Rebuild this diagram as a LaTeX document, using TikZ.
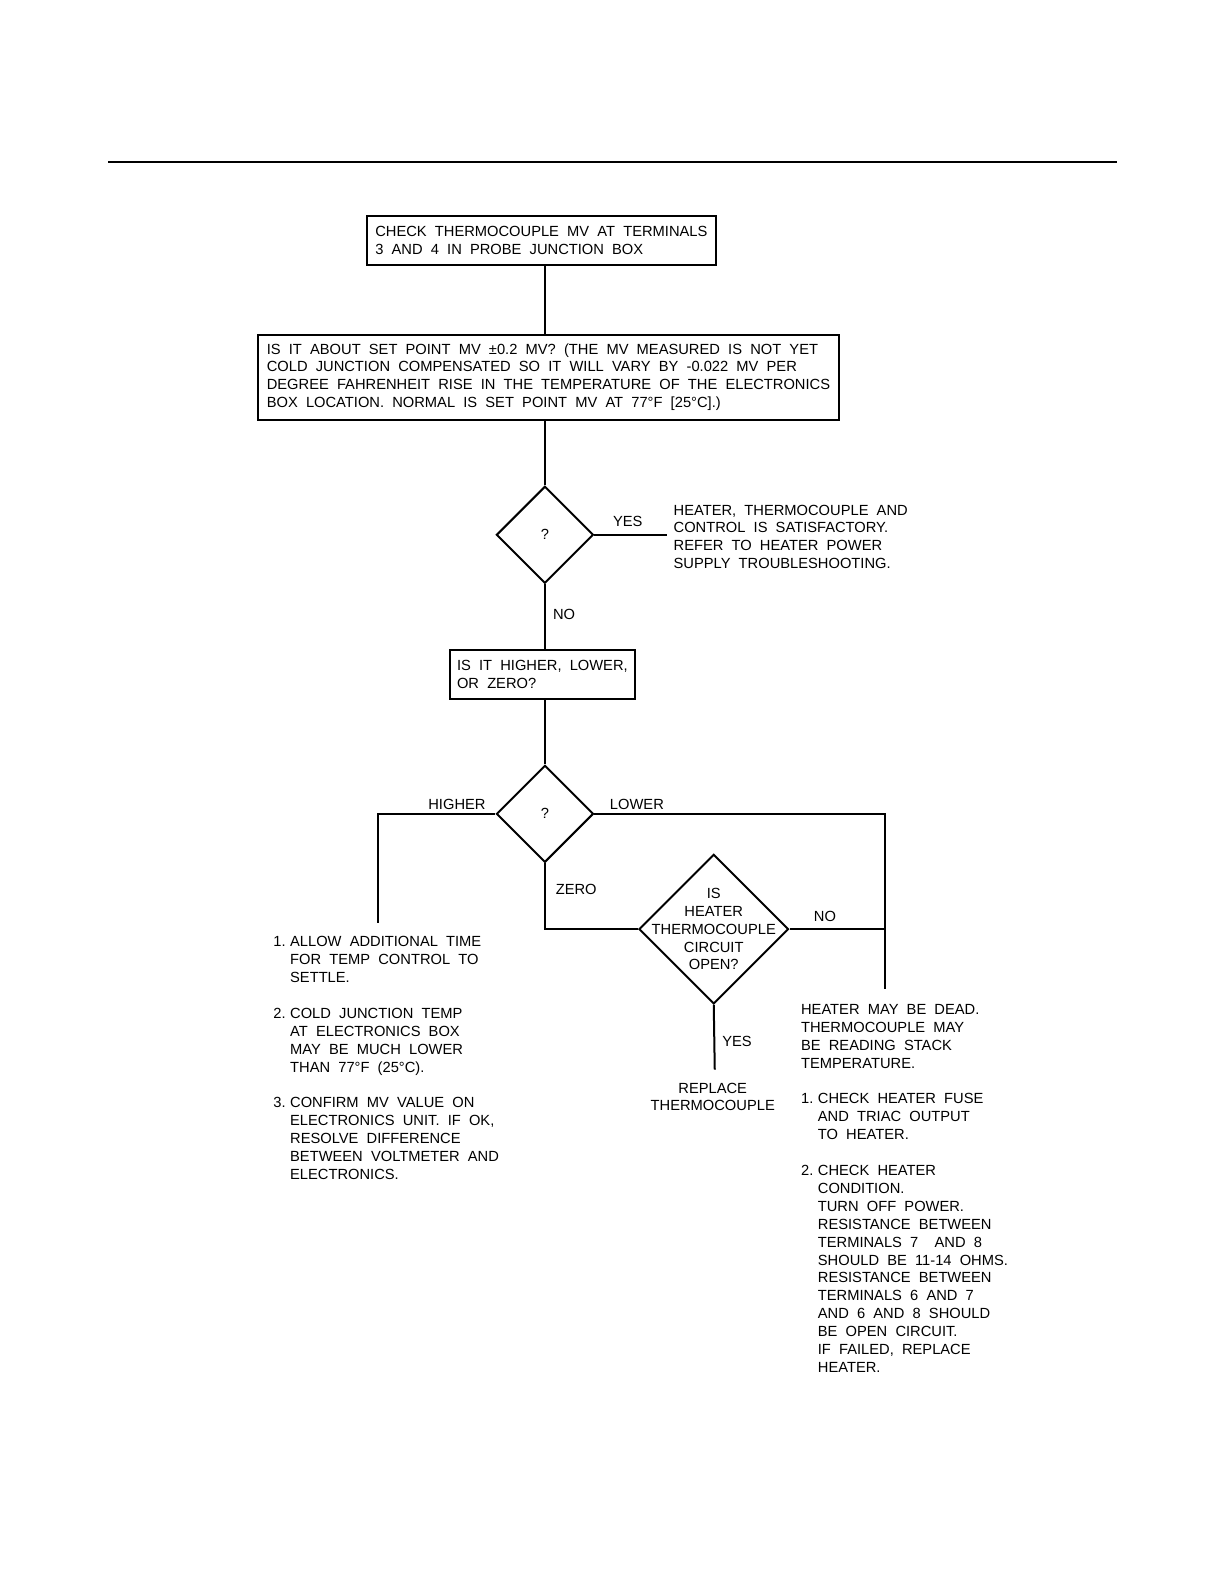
\documentclass[tikz,border=0pt]{standalone}
\usepackage{fontspec}
\setmainfont{Liberation Sans}[WordSpace=2]
\usetikzlibrary{shapes.geometric}
\newcommand{\numitem}[1]{\makebox[8.4pt][l]{#1}}
\newcommand{\indnt}{\hspace*{8.4pt}}

\begin{document}
\begin{tikzpicture}[x=0.5055pt, y=-0.5055pt,
  every node/.style={font=\fontsize{7.35}{8.95}\selectfont},
  stepbox/.style={shape=rectangle, draw, line width=1pt, align=left, inner xsep=3.5pt},
  decision/.style={shape=diamond, draw, line width=1pt, inner sep=0pt, minimum width=48.5pt, minimum height=48.5pt},
  note/.style={align=left, anchor=north west, inner sep=0pt},
  tag/.style={inner sep=0pt},
  flow/.style={line width=1pt}]

\useasboundingbox (0,0) rectangle (1211.7,1567.8);
\draw[line width=0.75pt] (107,160) -- (1105,160);

\node[stepbox, minimum width=174.4pt, minimum height=24.3pt] (n1) at (535.5,238) {CHECK THERMOCOUPLE MV AT TERMINALS\\3 AND 4 IN PROBE JUNCTION BOX};
\node[stepbox, minimum width=290.7pt, minimum height=42.5pt] (n2) at (542.5,373) {IS IT ABOUT SET POINT MV ±0.2 MV? (THE MV MEASURED IS NOT YET\\COLD JUNCTION COMPENSATED SO IT WILL VARY BY -0.022 MV PER\\DEGREE FAHRENHEIT RISE IN THE TEMPERATURE OF THE ELECTRONICS\\BOX LOCATION. NORMAL IS SET POINT MV AT 77°F [25°C].)};
\node[decision] (d1) at (539,529) {?};
\node[align=left, anchor=west, inner sep=3pt] (t1) at (660,531) {HEATER, THERMOCOUPLE AND\\CONTROL IS SATISFACTORY.\\REFER TO HEATER POWER\\SUPPLY TROUBLESHOOTING.};
\node[stepbox, minimum width=91.5pt, minimum height=24.3pt] (n3) at (536.5,667) {IS IT HIGHER, LOWER,\\OR ZERO?};
\node[decision] (d2) at (539,805) {?};
\node[decision, minimum width=74.8pt, minimum height=74.8pt] (d3) at (706,919) {};
\node[align=center, inner sep=0pt] (q3) at (d3.center) {IS\\HEATER\\THERMOCOUPLE\\CIRCUIT\\OPEN?};
\node[align=center, inner sep=0pt] (t4) at (705,1085) {REPLACE\\THERMOCOUPLE};

\node[note] (t2) at (270,926) {\numitem{1.}ALLOW ADDITIONAL TIME\\
\indnt FOR TEMP CONTROL TO\\
\indnt SETTLE.\\[8.95pt]
\numitem{2.}COLD JUNCTION TEMP\\
\indnt AT ELECTRONICS BOX\\
\indnt MAY BE MUCH LOWER\\
\indnt THAN 77°F (25°C).\\[8.95pt]
\numitem{3.}CONFIRM MV VALUE ON\\
\indnt ELECTRONICS UNIT. IF OK,\\
\indnt RESOLVE DIFFERENCE\\
\indnt BETWEEN VOLTMETER AND\\
\indnt ELECTRONICS.};

\node[note] (t3) at (792,993) {HEATER MAY BE DEAD.\\
THERMOCOUPLE MAY\\
BE READING STACK\\
TEMPERATURE.\\[8.95pt]
\numitem{1.}CHECK HEATER FUSE\\
\indnt AND TRIAC OUTPUT\\
\indnt TO HEATER.\\[8.95pt]
\numitem{2.}CHECK HEATER\\
\indnt CONDITION.\\
\indnt TURN OFF POWER.\\
\indnt RESISTANCE BETWEEN\\
\indnt TERMINALS 7 \ AND 8\\
\indnt SHOULD BE 11-14 OHMS.\\
\indnt RESISTANCE BETWEEN\\
\indnt TERMINALS 6 AND 7\\
\indnt AND 6 AND 8 SHOULD\\
\indnt BE OPEN CIRCUIT.\\
\indnt IF FAILED, REPLACE\\
\indnt HEATER.};

\coordinate (c1) at (374,913);
\coordinate (c2) at (875,978);
\coordinate (c3) at (707,1058);

\draw[flow] (n1.south -| d1) -- (n2.north -| d1);
\draw[flow] (n2.south -| d1) -- (d1.north);
\draw[flow] (d1.east) -- (d1.east -| t1.west);
\draw[flow] (d1.south) -- (n3.north -| d1);
\draw[flow] (n3.south -| d2) -- (d2.north);
\draw[flow] (d2.west) -| (c1);
\draw[flow] (d2.east) -| (c2);
\draw[flow] (d2.south) |- (d3.west);
\draw[flow] (d3.east) -- (d3.east -| c2);
\draw[flow] (d3.south) -- (c3);

\node[tag] (l1) at (621,516) {YES};
\node[tag] (l2) at (558,608) {NO};
\node[tag] (l3) at (452,796) {HIGHER};
\node[tag] (l4) at (630,796) {LOWER};
\node[tag] (l5) at (570,880) {ZERO};
\node[tag] (l6) at (816,906) {NO};
\node[tag] (l7) at (729,1030) {YES};
\end{tikzpicture}
\end{document}
